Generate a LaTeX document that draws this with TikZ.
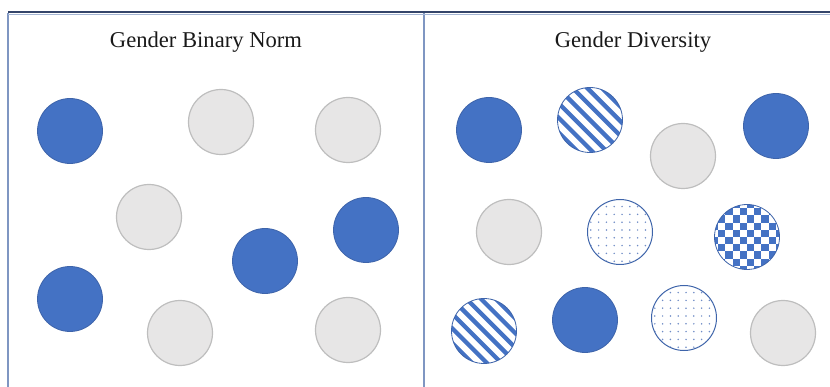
\documentclass[tikz,border=0pt]{standalone}
\usepackage{fontspec}
\setmainfont{Liberation Serif}
\definecolor{ocblue}{HTML}{4472C4}
\definecolor{ocedge}{HTML}{3E64AA}
\definecolor{gfill}{HTML}{E7E6E6}
\definecolor{gedge}{HTML}{BEBEBE}
\definecolor{topline}{HTML}{34456A}
\definecolor{vline}{HTML}{7F96C2}
\definecolor{dotcol}{HTML}{6F8CC6}
\begin{document}
\begin{tikzpicture}[x=1pt,y=-1pt,
  disc/.style={circle,minimum size=65pt,inner sep=0pt},
  bluec/.style={disc,fill=ocblue,draw=ocedge,line width=0.8pt},
  grayc/.style={disc,fill=gfill,draw=gedge,line width=1.2pt},
  stripec/.style={disc,fill=white,draw=ocedge,line width=0.8pt,
    path picture={\foreach \k in {-7,...,7}
      \draw[ocblue,line width=4.3pt]
        ([shift={(\k*14.6pt-50pt,50pt)}]path picture bounding box.center) -- ++(100pt,-100pt);}},
  checkc/.style={disc,fill=white,draw=ocedge,line width=0.8pt,
    path picture={\foreach \i in {-6,-4,...,6} \foreach \j in {-6,-4,...,6} {
      \fill[ocblue] ([shift={(\i*7.2pt,\j*7.2pt)}]path picture bounding box.center) rectangle ++(7.2pt,7.2pt);
      \fill[ocblue] ([shift={(\i*7.2pt+7.2pt,\j*7.2pt+7.2pt)}]path picture bounding box.center) rectangle ++(7.2pt,7.2pt);}}},
  dotdisc/.style={disc,fill=white,draw=ocedge,line width=1pt,
    path picture={\foreach \i in {-5,...,5} \foreach \j in {-5,...,5} {
      \fill[dotcol] ([shift={(\i*7.8pt+2pt,\j*7.8pt+2pt)}]path picture bounding box.center) circle (0.85pt);}}},
  title/.style={font=\fontsize{22.6}{26}\selectfont,text=black!90}
]
\useasboundingbox (0,0) rectangle (830,387);
% frame
\coordinate (tl) at (8,13);
\coordinate (tr) at (830,13);
\coordinate (bl) at (8,387);
\coordinate (mt) at (424,13);
\coordinate (mb) at (424,387);
\draw[vline,line width=2pt] (tl) -- (bl);
\draw[vline,line width=2pt] (mt) -- (mb);
\draw[topline,line width=2.2pt] ([yshift=0.6pt]tl) -- ([yshift=0.6pt]tr);
\draw[vline!70,line width=1pt] ([yshift=-1.6pt]tl) -- ([yshift=-1.6pt]tr);
% titles
\node[title] (t1) at (206,42) {Gender Binary Norm};
\node[title] (t2) at (633,42) {Gender Diversity};
% left panel
\node[bluec] (l1) at (70,131) {};
\node[grayc] (l2) at (221,122) {};
\node[grayc] (l3) at (348,130) {};
\node[grayc] (l4) at (149,217) {};
\node[bluec] (l5) at (366,230) {};
\node[bluec] (l6) at (265,261) {};
\node[bluec] (l7) at (70,299) {};
\node[grayc] (l8) at (180,333) {};
\node[grayc] (l9) at (348,330) {};
% right panel
\node[bluec] (r1) at (489,130) {};
\node[stripec] (r2) at (590,120) {};
\node[grayc] (r3) at (683,156) {};
\node[bluec] (r4) at (776,126) {};
\node[grayc] (r5) at (509,232) {};
\node[dotdisc] (r6) at (620,232) {};
\node[checkc] (r7) at (747,237) {};
\node[stripec] (r8) at (484,331) {};
\node[bluec] (r9) at (585,320) {};
\node[dotdisc] (r10) at (684,318) {};
\node[grayc] (r11) at (783,333) {};
\end{tikzpicture}
\end{document}
